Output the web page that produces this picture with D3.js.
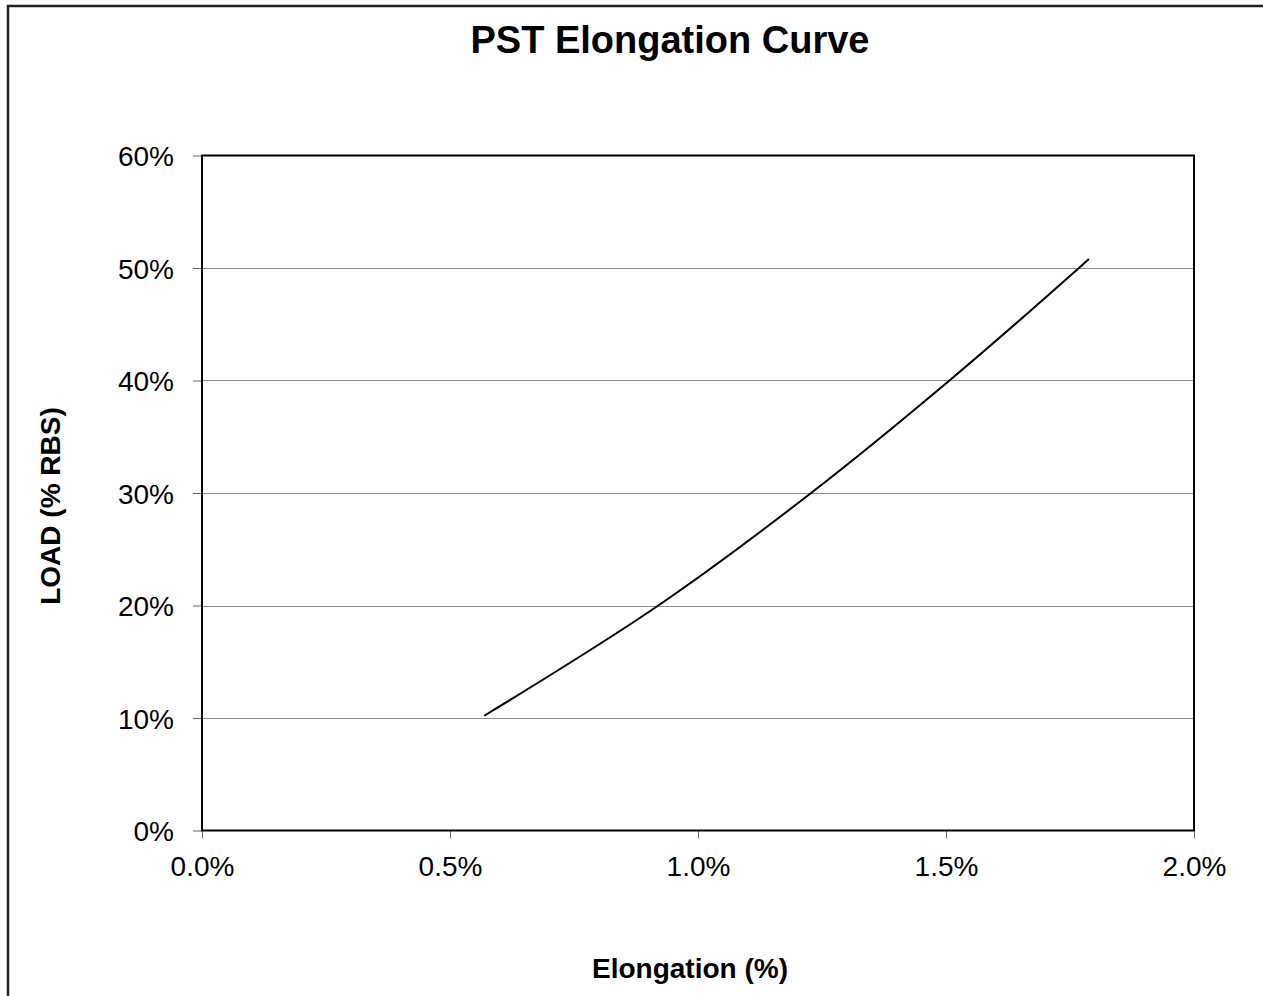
<!DOCTYPE html>
<html>
<head>
<meta charset="utf-8">
<script src="https://cdn.jsdelivr.net/npm/d3@7"></script>
<style>
  html, body { margin: 0; padding: 0; background: #fff; overflow: hidden; }
  svg { display: block; }
  text { font-family: "Liberation Sans", Arial, sans-serif; fill: #000; }
</style>
</head>
<body>
<script>
// Data
const elongation = [0.00569, 0.00920, 0.01228, 0.01507, 0.01768, 0.01788];
const load       = [0.102,   0.200,   0.300,   0.400,   0.500,   0.508];
const xTicks = [0, 0.005, 0.01, 0.015, 0.02];
const yTicks = [0, 0.1, 0.2, 0.3, 0.4, 0.5, 0.6];
const title = "PST Elongation Curve";
const xTitle = "Elongation (%)";
const yTitle = "LOAD (% RBS)";

const W = 1263, H = 996;
const plot = { left: 202, top: 155.5, right: 1194, bottom: 830.5 };

const svg = d3.select("body").append("svg").attr("width", W).attr("height", H);

// outer chart border (top and left visible)
svg.append("path").attr("d", `M8,${H + 5} L8,6 L${W + 5},6`)
  .attr("fill", "none").attr("stroke", "#222").attr("stroke-width", 2.5);

const x = d3.scaleLinear().domain([0, 0.02]).range([plot.left, plot.right]);
const y = d3.scaleLinear().domain([0, 0.6]).range([plot.bottom, plot.top]);

// gridlines
svg.append("g").selectAll("line").data(yTicks.filter(d => d > 0 && d < 0.6)).join("line")
  .attr("x1", plot.left).attr("x2", plot.right)
  .attr("y1", d => Math.round(y(d)) + 0.5).attr("y2", d => Math.round(y(d)) + 0.5)
  .attr("stroke", "#8c8c8c").attr("stroke-width", 1);

// axes
const yAxis = d3.axisLeft(y).tickValues(yTicks).tickFormat(d3.format(".0%")).tickSizeInner(9).tickSizeOuter(0).tickPadding(19);
const xAxis = d3.axisBottom(x).tickValues(xTicks).tickFormat(d3.format(".1%")).tickSizeInner(8).tickSizeOuter(0).tickPadding(18);

const gy = svg.append("g").attr("transform", `translate(${plot.left},0)`).call(yAxis);
const gx = svg.append("g").attr("transform", `translate(0,${plot.bottom})`).call(xAxis);
[gx, gy].forEach(g => {
  g.select(".domain").remove();
  g.selectAll(".tick line").attr("stroke", "#666").attr("stroke-width", 1);
  g.selectAll(".tick text").style("font-size", "28px").style("font-family", "'Liberation Sans', Arial, sans-serif").attr("fill", "#000");
});
gy.selectAll(".tick text").attr("dy", "0.36em");
gx.selectAll(".tick text").attr("dy", "0.71em");

// plot border
svg.append("rect").attr("x", plot.left).attr("y", plot.top)
  .attr("width", plot.right - plot.left).attr("height", plot.bottom - plot.top)
  .attr("fill", "none").attr("stroke", "#000").attr("stroke-width", 2);

// curve
const pts = elongation.map((e, i) => [e, load[i]]);
svg.append("path").datum(pts)
  .attr("d", d3.line().x(d => x(d[0])).y(d => y(d[1])).curve(d3.curveCatmullRom.alpha(0.5)))
  .attr("fill", "none").attr("stroke", "#000").attr("stroke-width", 2);

// titles
svg.append("text").attr("x", 670).attr("y", 53).attr("text-anchor", "middle")
  .style("font-size", "38px").style("font-weight", "bold").text(title);
svg.append("text").attr("x", 690).attr("y", 978).attr("text-anchor", "middle")
  .style("font-size", "28px").style("font-weight", "bold").text(xTitle);
svg.append("text").attr("transform", `translate(60,506) rotate(-90)`)
  .attr("text-anchor", "middle")
  .style("font-size", "28px").style("font-weight", "bold").text(yTitle);
</script>
</body>
</html>
